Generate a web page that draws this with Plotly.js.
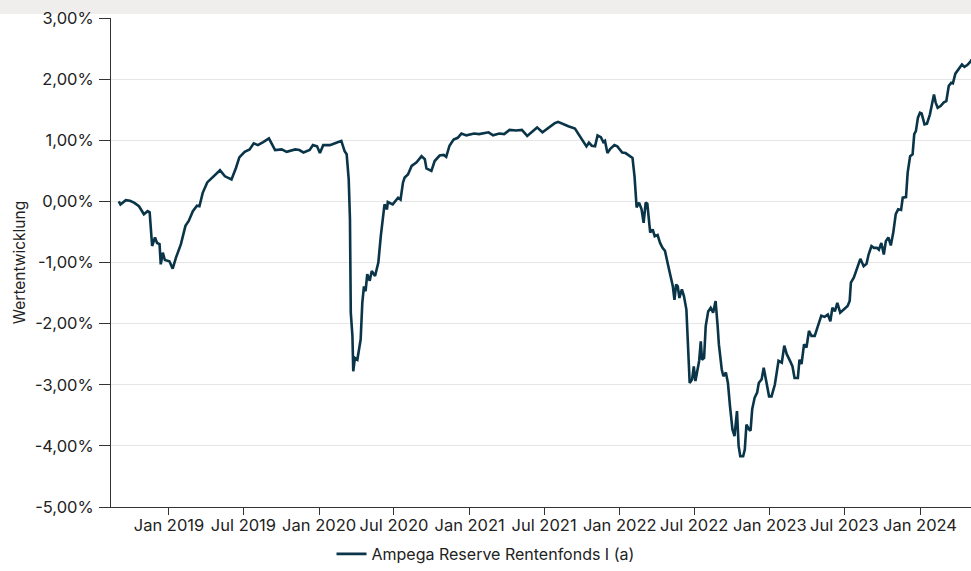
<!DOCTYPE html>
<html>
<head>
<meta charset="utf-8">
<script src="https://cdn.plot.ly/plotly-3.0.1.min.js"></script>
<style>
html,body{margin:0;padding:0;background:#fff;}
#strip{position:absolute;left:0;top:0;width:971px;height:14px;background:#efeeec;}
#chart{position:absolute;left:0;top:0;width:971px;height:571px;}
</style>
</head>
<body>
<div id="strip"></div>
<div id="chart"></div>
<script>
const seriesName = "Ampega Reserve Rentenfonds I (a)";
const dates = [
"2018-09-01","2018-09-05","2018-09-18","2018-09-28","2018-10-08","2018-10-20","2018-11-01","2018-11-10","2018-11-15","2018-11-21",
"2018-11-28","2018-12-03","2018-12-09","2018-12-12","2018-12-17","2018-12-22","2019-01-02","2019-01-06","2019-01-10","2019-01-18",
"2019-01-30","2019-02-10","2019-02-18","2019-02-28","2019-03-10","2019-03-16","2019-03-24","2019-04-04","2019-04-20","2019-05-05",
"2019-05-17","2019-06-02","2019-06-13","2019-06-21","2019-07-04","2019-07-16","2019-07-26","2019-08-05","2019-08-18","2019-09-01",
"2019-09-16","2019-10-02","2019-10-14","2019-11-04","2019-11-14","2019-11-24","2019-12-09","2019-12-17","2019-12-27","2020-01-03",
"2020-01-11","2020-01-27","2020-02-12","2020-02-24","2020-03-03","2020-03-08","2020-03-13","2020-03-16","2020-03-18","2020-03-22",
"2020-03-24","2020-03-28","2020-04-03","2020-04-11","2020-04-15","2020-04-19","2020-04-23","2020-04-27","2020-05-03","2020-05-08",
"2020-05-16","2020-05-24","2020-05-30","2020-06-08","2020-06-14","2020-06-16","2020-06-28","2020-07-11","2020-07-17","2020-07-23",
"2020-07-27","2020-08-04","2020-08-13","2020-08-25","2020-09-06","2020-09-14","2020-09-18","2020-09-30","2020-10-08","2020-10-20",
"2020-10-30","2020-11-05","2020-11-13","2020-11-23","2020-12-03","2020-12-12","2020-12-24","2021-01-12","2021-01-24","2021-02-04",
"2021-02-16","2021-02-27","2021-03-14","2021-03-26","2021-04-08","2021-04-24","2021-05-08","2021-05-21","2021-06-01","2021-06-14",
"2021-06-27","2021-07-10","2021-07-27","2021-08-04","2021-08-17","2021-08-29","2021-09-14","2021-09-26","2021-10-07","2021-10-12",
"2021-10-18","2021-10-25","2021-11-02","2021-11-08","2021-11-16","2021-11-22","2021-11-26","2021-12-02","2021-12-09","2021-12-19",
"2021-12-26","2022-01-07","2022-01-15","2022-01-23","2022-02-01","2022-02-06","2022-02-11","2022-02-17","2022-02-23","2022-02-28",
"2022-03-05","2022-03-09","2022-03-16","2022-03-22","2022-03-27","2022-04-03","2022-04-09","2022-04-15","2022-04-21","2022-04-28",
"2022-05-04","2022-05-10","2022-05-14","2022-05-18","2022-05-22","2022-05-26","2022-06-01","2022-06-06","2022-06-12","2022-06-16",
"2022-06-20","2022-06-26","2022-06-30","2022-07-04","2022-07-09","2022-07-13","2022-07-17","2022-07-20","2022-07-25","2022-07-29",
"2022-08-04","2022-08-10","2022-08-16","2022-08-22","2022-08-27","2022-08-30","2022-09-06","2022-09-10","2022-09-16","2022-09-21",
"2022-09-26","2022-10-02","2022-10-07","2022-10-13","2022-10-17","2022-10-21","2022-10-28","2022-11-01","2022-11-05","2022-11-11",
"2022-11-15","2022-11-19","2022-11-25","2022-12-01","2022-12-05","2022-12-12","2022-12-17","2022-12-23","2022-12-30","2023-01-05",
"2023-01-13","2023-01-22","2023-01-30","2023-02-05","2023-02-11","2023-02-19","2023-02-25","2023-03-02","2023-03-10","2023-03-14",
"2023-03-19","2023-03-25","2023-03-31","2023-04-06","2023-04-12","2023-04-20","2023-04-28","2023-05-06","2023-05-14","2023-05-22",
"2023-05-28","2023-06-02","2023-06-08","2023-06-14","2023-06-21","2023-06-29","2023-07-09","2023-07-14","2023-07-17","2023-07-24",
"2023-08-02","2023-08-09","2023-08-17","2023-08-24","2023-08-29","2023-09-05","2023-09-11","2023-09-18","2023-09-23","2023-09-29",
"2023-10-05","2023-10-10","2023-10-16","2023-10-22","2023-10-28","2023-11-03","2023-11-09","2023-11-16","2023-11-20","2023-11-25",
"2023-11-28","2023-12-02","2023-12-08","2023-12-14","2023-12-18","2023-12-22","2023-12-27","2024-01-01","2024-01-05","2024-01-12",
"2024-01-18","2024-01-25","2024-01-31","2024-02-04","2024-02-08","2024-02-13","2024-02-20","2024-02-28","2024-03-05","2024-03-11",
"2024-03-17","2024-03-21","2024-03-27","2024-04-04","2024-04-12","2024-04-18","2024-04-25","2024-05-02","2024-05-06"
];
const values = [
0.00,-0.05,0.02,0.01,-0.02,-0.08,-0.21,-0.16,-0.18,-0.73,
-0.59,-0.68,-0.70,-1.03,-0.84,-0.96,-0.98,-1.03,-1.10,-0.92,
-0.70,-0.40,-0.32,-0.16,-0.07,-0.08,0.14,0.31,0.41,0.51,
0.41,0.36,0.55,0.72,0.81,0.85,0.95,0.92,0.97,1.03,
0.84,0.85,0.81,0.85,0.84,0.80,0.84,0.92,0.90,0.79,
0.92,0.92,0.96,0.99,0.82,0.77,0.36,-0.29,-1.82,-2.20,
-2.78,-2.56,-2.59,-2.26,-1.66,-1.39,-1.47,-1.19,-1.30,-1.14,
-1.22,-1.00,-0.57,-0.05,-0.13,-0.01,-0.05,0.06,0.03,0.31,
0.39,0.44,0.58,0.64,0.74,0.69,0.54,0.50,0.66,0.75,
0.76,0.73,0.91,1.01,1.04,1.11,1.08,1.11,1.10,1.11,
1.13,1.08,1.11,1.10,1.17,1.16,1.17,1.07,1.13,1.21,
1.13,1.19,1.28,1.30,1.26,1.23,1.19,1.07,0.96,0.90,
0.96,0.91,0.90,1.08,1.05,0.97,0.99,0.79,0.86,0.92,
0.90,0.80,0.79,0.75,0.71,0.40,-0.10,-0.02,-0.13,-0.35,
-0.02,-0.04,-0.51,-0.46,-0.57,-0.55,-0.68,-0.76,-0.81,-1.03,
-1.22,-1.39,-1.61,-1.36,-1.39,-1.58,-1.44,-1.55,-1.77,-2.26,
-2.97,-2.91,-2.70,-2.94,-2.75,-2.61,-2.29,-2.59,-2.56,-2.04,
-1.80,-1.74,-1.82,-1.63,-2.04,-2.34,-2.75,-2.86,-2.80,-2.97,
-3.35,-3.73,-3.84,-3.43,-4.00,-4.17,-4.17,-4.06,-3.65,-3.73,
-3.75,-3.40,-3.21,-3.13,-2.97,-2.91,-2.72,-2.91,-3.19,-3.19,
-3.00,-2.61,-2.64,-2.36,-2.50,-2.61,-2.70,-2.89,-2.89,-2.59,
-2.66,-2.34,-2.39,-2.12,-2.20,-2.20,-2.04,-1.87,-1.89,-1.85,
-1.96,-1.74,-1.80,-1.66,-1.82,-1.77,-1.71,-1.63,-1.33,-1.25,
-1.09,-0.94,-1.06,-1.02,-0.87,-0.73,-0.76,-0.76,-0.79,-0.68,
-0.87,-0.65,-0.59,-0.72,-0.51,-0.21,-0.13,-0.14,0.06,0.06,
0.07,0.47,0.74,0.77,1.10,1.15,1.37,1.45,1.44,1.26,
1.27,1.42,1.59,1.75,1.62,1.53,1.56,1.62,1.64,1.89,
1.94,1.93,2.09,2.17,2.24,2.20,2.23,2.28,2.32
];
const yTitle = "Wertentwicklung";
const yTickVals = [-5, -4, -3, -2, -1, 0, 1, 2, 3];
const yTickText = ["-5,00%", "-4,00%", "-3,00%", "-2,00%", "-1,00%", "0,00%", "1,00%", "2,00%", "3,00%"];
const xRange = ["2018-08-13","2024-05-04"];
const yRange = [-5, 3];

const trace = {
  x: dates, y: values, type: "scatter", mode: "lines", name: seriesName,
  line: {color: "#0a3548", width: 2.6}
};
const fontFam = "Inter, 'Noto Sans', sans-serif";
const layout = {
  width: 971, height: 571,
  margin: {l: 111, r: 0, t: 18, b: 64},
  paper_bgcolor: "rgba(0,0,0,0)", plot_bgcolor: "#fff",
  font: {family: fontFam, size: 16, color: "#222"},
  showlegend: true,
  legend: {orientation: "h", x: 0.5, xanchor: "center", xref: "container",
           y: -0.007, yanchor: "bottom", yref: "container", font: {size: 16, color: "#222"}},
  xaxis: {
    type: "date", range: xRange, tick0: "2019-01-01", dtick: "M6", tickformat: "%b %Y",
    tickfont: {size: 16.5},
    showgrid: false, showline: true, linecolor: "#333", linewidth: 1,
    ticks: "outside", ticklen: 7, tickcolor: "#333", zeroline: false,
    ticklabelstandoff: -4
  },
  yaxis: {
    range: yRange, tickmode: "array", tickvals: yTickVals, ticktext: yTickText,
    tickfont: {size: 16.5}, ticklabelstandoff: 2,
    showgrid: true, gridcolor: "#e6e6e6", gridwidth: 1,
    showline: true, linecolor: "#333", linewidth: 1,
    ticks: "outside", ticklen: 11, tickcolor: "#333", zeroline: false,
    title: {text: yTitle, font: {size: 15.5, color: "#222"}, standoff: 5}
  }
};
Plotly.newPlot("chart", [trace], layout, {displayModeBar: false, staticPlot: true});
</script>
</body>
</html>
